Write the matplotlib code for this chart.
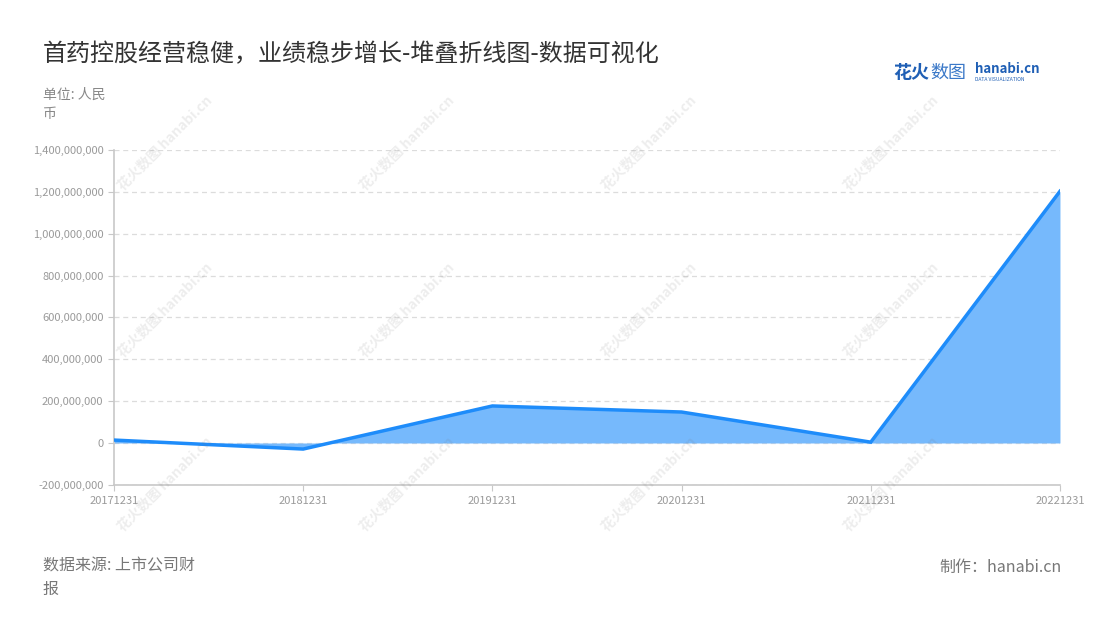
import matplotlib.pyplot as plt
from matplotlib.ticker import FuncFormatter

plt.rcParams['font.family'] = ['Noto Sans CJK SC', 'DejaVu Sans']

# data
dates = ["20171231", "20181231", "20191231", "20201231", "20211231", "20221231"]
profit = [14e6, -29e6, 177e6, 148e6, 4e6, 1203e6]
y_ticks = [-200e6, 0, 200e6, 400e6, 600e6, 800e6, 1000e6, 1200e6, 1400e6]

line_col = "#1e8cfa"
fill_col = "#76b9fc"
grey = "#9a9a9a"

fig = plt.figure(figsize=(11, 6.2), dpi=100)
ax = fig.add_axes([0.1036, 0.218, 0.86, 0.540])

x = list(range(len(dates)))
ax.fill_between(x, profit, 0, color=fill_col, linewidth=0, interpolate=True, zorder=2)
ax.plot(x, profit, color=line_col, linewidth=2.5, zorder=3, solid_joinstyle="miter")

ax.set_xlim(0, len(dates) - 1)
ax.set_ylim(-200e6, 1400e6)
ax.set_xticks(x)
ax.set_xticklabels(dates)
ax.set_yticks(y_ticks)
ax.yaxis.set_major_formatter(FuncFormatter(lambda v, p: f"{int(v):,}"))
ax.tick_params(axis="both", colors="#c8c8c8", labelcolor=grey, labelsize=8, length=4)
ax.tick_params(axis="x", pad=4)

ax.grid(axis="y", color="#dcdcdc", linestyle=(0, (4, 3)), linewidth=0.9, zorder=1)
for s in ["top", "right"]:
    ax.spines[s].set_visible(False)
for s in ["left", "bottom"]:
    ax.spines[s].set_color("#c8c8c8")
    ax.spines[s].set_linewidth(1.2)

# faint watermarks
for wx in [0.15, 0.37, 0.59, 0.81]:
    for wy in [0.77, 0.50, 0.22]:
        fig.text(wx, wy, "花火数图 hanabi.cn", rotation=45, fontsize=10, color="#777777",
                 alpha=0.13, ha="center", va="center", weight="bold")

fig.text(0.039, 0.912, "首药控股经营稳健，业绩稳步增长-堆叠折线图-数据可视化", fontsize=17.3,
         color="#333333", va="center")
fig.text(0.039, 0.832, "单位: 人民\n币", fontsize=10, color="#888888", va="center", linespacing=1.5)
fig.text(0.039, 0.068, "数据来源: 上市公司财\n报", fontsize=11.5, color="#777777", va="center", linespacing=1.45)
fig.text(0.965, 0.085, "制作：hanabi.cn", fontsize=11.5, color="#777777", va="center", ha="right")

# logo
fig.text(0.812, 0.883, "花火", fontsize=13, color="#1f5fb5", weight="bold", va="center")
fig.text(0.846, 0.883, "数图", fontsize=13, color="#3a78c8", va="center")
fig.text(0.886, 0.889, "hanabi.cn", fontsize=9.5, color="#1f5fb5", weight="bold", va="center")
fig.text(0.886, 0.871, "DATA VISUALIZATION", fontsize=3.6, color="#1f5fb5", va="center")

fig.savefig("out.png", dpi=100)
